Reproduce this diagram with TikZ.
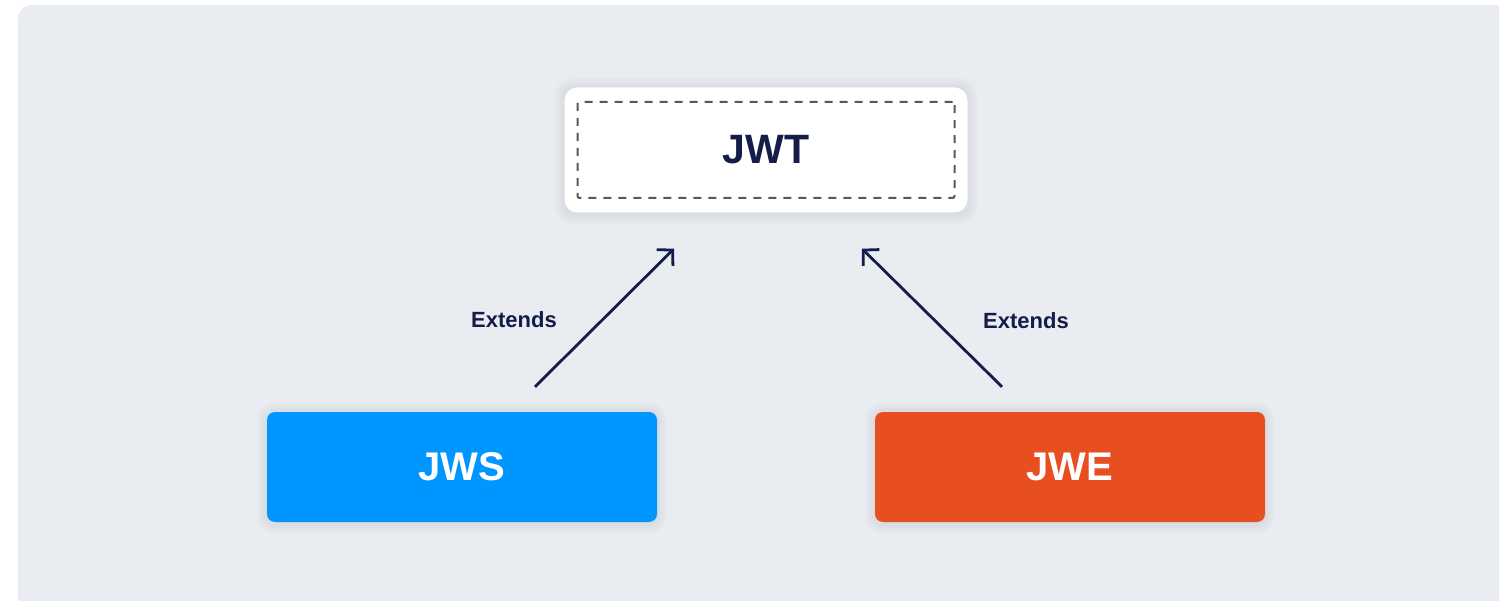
\documentclass[tikz,border=0pt]{standalone}
\usepackage{fontspec}
\setmainfont{Liberation Sans}
\usetikzlibrary{arrows.meta,positioning,backgrounds}

\definecolor{panelgray}{HTML}{E9EDF1}
\definecolor{navy}{HTML}{141C4A}
\definecolor{jwsblue}{HTML}{0096FF}
\definecolor{jweorange}{HTML}{E84F20}
\definecolor{dashgray}{HTML}{585858}

\begin{document}
\begin{tikzpicture}[x=1pt,y=-1pt,
  card/.style={fill=white, rounded corners=13pt, minimum width=403pt, minimum height=125pt, inner sep=0pt},
  dashbox/.style={draw=dashgray, line width=2pt, dash pattern=on 8pt off 7pt, rounded corners=2pt,
    minimum width=377pt, minimum height=96pt, inner sep=0pt, text=navy, font=\fontsize{41}{50}\selectfont\bfseries},
  box/.style={rounded corners=8pt, minimum width=390pt, minimum height=110pt, inner sep=0pt,
    text=white, font=\fontsize{40}{48}\selectfont\bfseries},
  extends/.style={draw=navy, line width=2.8pt, -{Straight Barb[length=11pt,width=23pt]}},
  lbl/.style={text=navy, font=\fontsize{22}{26}\selectfont\bfseries}]

\useasboundingbox (0,0) rectangle (1499,601);

% Panel
\begin{scope}[on background layer]
\fill[panelgray, rounded corners=14pt] (18,5) rectangle (1540,640);
\end{scope}

% JWT
\node[card] (jwtcard) at (766,150) {};
\node[dashbox] (jwt) at (jwtcard) {JWT};

% JWS and JWE
\node[box, fill=jwsblue] (jws) at (462,467) {JWS};
\node[box, fill=jweorange] (jwe) at (1070,467) {JWE};

% Shadows
\begin{scope}[on background layer]
\foreach \n in {jwtcard,jws,jwe}
  \foreach \s in {2,4,...,10}
    \fill[black, opacity=0.012, rounded corners=\s pt+9pt]
      ([shift={(-\s pt,\s pt)}]\n.north west) rectangle ([shift={(\s pt,-\s pt-2pt)}]\n.south east);
\end{scope}

% Arrows
\draw[extends] ([xshift=73pt,yshift=25pt]jws.north) -- ([xshift=-92pt,yshift=-36pt]jwtcard.south);
\draw[extends] ([xshift=-68pt,yshift=25pt]jwe.north) -- ([xshift=96pt,yshift=-36pt]jwtcard.south);

% Labels
\node[lbl] (extl) at (514,320) {Extends};
\node[lbl] (extr) at (1026,321) {Extends};

\end{tikzpicture}
\end{document}
